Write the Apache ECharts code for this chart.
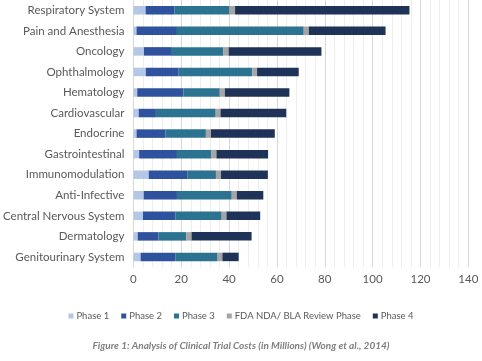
<!DOCTYPE html>
<html>
<head>
<meta charset="utf-8">
<script src="https://cdn.jsdelivr.net/npm/echarts@6/dist/echarts.min.js"></script>
<style>html,body{margin:0;padding:0;background:#fff;}#c{width:482px;height:361px;}</style>
</head>
<body>
<div id="c"></div>
<script>
const categories = ["Respiratory System","Pain and Anesthesia","Oncology","Ophthalmology","Hematology","Cardiovascular","Endocrine","Gastrointestinal","Immunomodulation","Anti-Infective","Central Nervous System","Dermatology","Genitourinary System"];
const phase1 = [5.1, 1.3, 4.4, 5.2, 1.6, 2.2, 1.3, 2.4, 6.4, 4.3, 4.0, 1.8, 3.0];
const phase2 = [12.1, 16.9, 11.3, 13.7, 19.3, 7.2, 12.1, 15.8, 16.1, 13.9, 13.5, 8.7, 14.5];
const phase3 = [23.0, 53.0, 21.8, 30.8, 15.2, 25.0, 16.9, 14.4, 12.0, 22.9, 19.4, 11.6, 17.7];
const fdaReview = [2.3, 2.1, 2.3, 2.0, 2.1, 2.0, 2.1, 2.1, 2.1, 2.1, 2.0, 2.2, 2.0];
const phase4 = [72.9, 32.1, 38.8, 17.4, 27.0, 27.5, 26.7, 21.6, 19.6, 11.1, 14.1, 25.1, 6.8];
const seriesNames = ["Phase 1","Phase 2","Phase 3","FDA NDA/ BLA Review Phase","Phase 4"];
const xTicks = [0, 20, 40, 60, 80, 100, 120, 140];
const caption = "Figure 1: Analysis of Clinical Trial Costs (in Millions) (Wong et al., 2014)";

const colors = ["#b4c7e7", "#2f529e", "#2c7391", "#a5a5a5", "#1f3257"];
const dataSets = [phase1, phase2, phase3, fdaReview, phase4];
const font = "Lato";

const chart = echarts.init(document.getElementById('c'));
chart.setOption({
  animation: false,
  color: colors,
  textStyle: { fontFamily: font },
  grid: { left: 123.5, right: 13.7, top: -5.5, bottom: 93.8, containLabel: false },
  title: {
    text: caption, left: 'center', bottom: 5,
    textStyle: { fontSize: 10, fontStyle: 'italic', fontWeight: 'bold', color: '#7f7f7f', fontFamily: font }
  },
  legend: {
    data: seriesNames, bottom: 35, left: 'center',
    itemWidth: 5, itemHeight: 5, itemGap: 12, icon: 'rect',
    textStyle: { fontSize: 9.5, color: '#595959', fontFamily: font, padding: [0, 0, 0, -2] }
  },
  xAxis: {
    type: 'value', min: xTicks[0], max: xTicks[xTicks.length - 1], interval: 20,
    axisLine: { show: false }, axisTick: { show: false },
    axisLabel: { fontSize: 11.5, color: '#595959', margin: 6 },
    splitLine: { show: true, lineStyle: { color: '#d9d9d9', width: 1 } },
    minorTick: { show: false, splitNumber: 5 },
    minorSplitLine: { show: true, lineStyle: { color: '#eeeeee', width: 1 } }
  },
  yAxis: {
    type: 'category', data: categories, inverse: true,
    axisLine: { show: true, lineStyle: { color: '#d9d9d9' } }, axisTick: { show: false },
    axisLabel: { fontSize: 11.5, color: '#595959', margin: 9 }
  },
  series: dataSets.map((d, i) => ({
    name: seriesNames[i], type: 'bar', stack: 'total', data: d,
    barWidth: 8.5, itemStyle: { color: colors[i] }
  }))
});
</script>
</body>
</html>
